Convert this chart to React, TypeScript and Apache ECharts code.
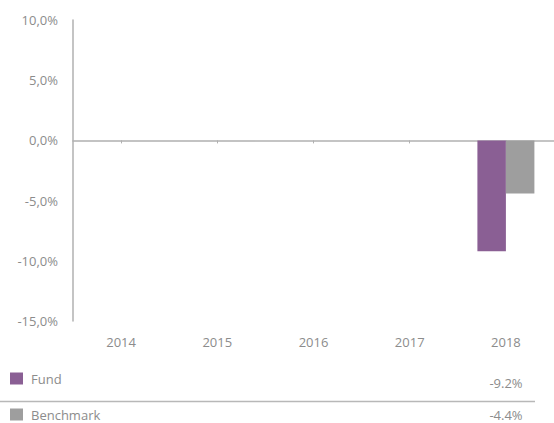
import React, { useEffect, useRef } from "react";
import * as echarts from "echarts";

const years = ["2014", "2015", "2016", "2017", "2018"];
const fundValues: (number | null)[] = [null, null, null, null, -9.2];
const benchmarkValues: (number | null)[] = [null, null, null, null, -4.4];
const seriesNames = ["Fund", "Benchmark"];
const seriesColors = ["#8a5f94", "#9e9e9e"];
const latestLabels = ["-9.2%", "-4.4%"];

const FONT = "'Open Sans', 'Noto Sans', sans-serif";
const TEXT = "#8c8c8c";

export default function App() {
  const ref = useRef<HTMLDivElement>(null);
  useEffect(() => {
    document.body.style.margin = "0";
    const chart = echarts.init(ref.current!, null, { renderer: "svg" });
    chart.setOption({
      animation: false,
      grid: { left: 73, right: 0, top: 20, bottom: 102, containLabel: false },
      legend: {
        orient: "vertical",
        left: 10,
        top: 372,
        padding: 0,
        itemWidth: 13,
        itemHeight: 12,
        itemGap: 23,
        icon: "rect",
        textStyle: { color: TEXT, fontFamily: FONT, fontSize: 13, padding: [0, 0, 0, 3] },
        data: seriesNames,
      },
      xAxis: [
        {
          type: "category",
          data: years,
          axisLine: { onZero: true, lineStyle: { color: "#b0b0b0", width: 1.5 } },
          axisTick: { show: true, alignWithLabel: true, length: 3, lineStyle: { color: "#b0b0b0" } },
          axisLabel: { show: false },
        },
        {
          type: "category",
          data: years,
          position: "bottom",
          axisLine: { show: false, onZero: false },
          axisTick: { show: false },
          axisLabel: { color: TEXT, fontFamily: FONT, fontSize: 13, margin: 14 },
        },
      ],
      yAxis: {
        type: "value",
        min: -15,
        max: 10,
        interval: 5,
        splitLine: { show: false },
        axisLine: { show: true, lineStyle: { color: "#b0b0b0", width: 1.5 } },
        axisTick: { show: false },
        axisLabel: {
          color: TEXT,
          fontFamily: FONT,
          fontSize: 13,
          margin: 15,
          formatter: (v: number) => v.toFixed(1).replace(".", ",") + "%",
        },
      },
      series: [
        {
          name: seriesNames[0],
          type: "bar",
          xAxisIndex: 0,
          data: fundValues,
          barWidth: 28.5,
          barGap: "0%",
          itemStyle: { color: seriesColors[0] },
        },
        {
          name: seriesNames[1],
          type: "bar",
          xAxisIndex: 0,
          data: benchmarkValues,
          barWidth: 28.5,
          barGap: "0%",
          itemStyle: { color: seriesColors[1] },
        },
      ],
      graphic: [
        {
          type: "line",
          shape: { x1: 0, y1: 401.5, x2: 535, y2: 401.5 },
          style: { stroke: "#b8b8b8", lineWidth: 1.5 },
        },
        ...latestLabels.map((t, i) => ({
          type: "text",
          x: 506,
          y: i === 0 ? 383 : 415,
          style: {
            text: t,
            fill: TEXT,
            font: `13px ${FONT}`,
            textAlign: "center",
            textVerticalAlign: "middle",
          },
        })),
      ],
    });
    return () => chart.dispose();
  }, []);
  return <div ref={ref} style={{ width: 554, height: 423, position: "absolute", left: 0, top: 0 }} />;
}
